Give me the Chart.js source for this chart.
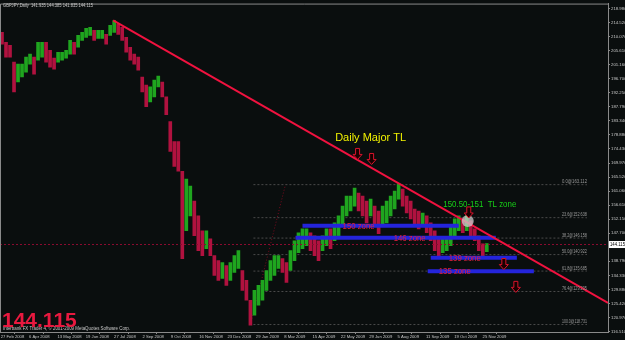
<!DOCTYPE html>
<html>
<head>
<meta charset="utf-8">
<script src="https://cdn.jsdelivr.net/npm/chart.js@4.4.1/dist/chart.umd.min.js"></script>
<style>
  html, body { margin: 0; padding: 0; background: #0a0e0e; }
</style>
</head>
<body>
<canvas id="chart" width="625" height="340"></canvas>
<script>
// GBPJPY daily, Feb 2008 - Dec 2009 (one bar here = about 4 trading days)
const symbolTitle = 'GBPJPY,Daily  141.935 144.385 141.835 144.115';
const lastPrice = 144.115;

const barHighs = [
  211.43, 208.28, 207.33, 201.98, 201.35, 201.35, 203.56, 204.50, 203.56, 208.28,
  208.28, 208.28, 205.76, 203.24, 205.13, 205.13, 205.76, 208.91, 208.28, 210.48,
  211.43, 212.69, 213.00, 212.06, 212.06, 212.06, 210.80, 213.63, 215.20, 213.94,
  213.00, 209.85, 206.70, 204.50, 203.56, 197.26, 194.74, 194.11, 196.32, 197.57,
  195.69, 190.96, 183.09, 176.80, 176.80, 167.35, 164.84, 162.63, 157.91, 153.19,
  148.47, 148.47, 145.95, 140.60, 139.02, 138.39, 137.45, 138.39, 140.60, 142.17,
  135.87, 132.73, 126.43, 129.58, 131.15, 132.73, 135.87, 139.02, 140.60, 140.60,
  139.65, 138.39, 142.17, 145.32, 147.84, 149.10, 149.10, 147.84, 146.89, 145.32,
  146.89, 149.10, 149.10, 150.98, 153.19, 156.30, 159.48, 159.48, 162.00, 160.43,
  159.48, 157.91, 158.54, 156.30, 154.76, 156.30, 157.91, 159.48, 161.06, 163.26,
  161.69, 159.48, 157.91, 155.39, 154.76, 154.13, 153.19, 150.98, 148.47, 145.95,
  145.95, 146.58, 150.04, 152.24, 153.19, 152.24, 153.19, 151.61, 149.10, 146.89,
  144.37, 144.39
];
const barLows = [
  207.65, 203.56, 203.56, 192.54, 195.69, 197.26, 198.83, 201.35, 198.20, 202.61,
  203.56, 201.98, 200.41, 199.78, 201.98, 202.61, 203.24, 204.50, 204.50, 206.70,
  208.91, 209.85, 210.48, 208.91, 209.54, 209.54, 207.65, 210.48, 211.43, 210.80,
  208.91, 205.13, 202.61, 201.35, 199.46, 192.54, 187.82, 189.39, 190.96, 194.11,
  190.96, 185.30, 173.65, 168.93, 167.35, 139.65, 148.47, 153.19, 146.89, 142.17,
  140.60, 142.80, 140.60, 134.30, 132.73, 133.36, 131.15, 132.73, 135.24, 136.50,
  129.58, 126.43, 118.56, 121.71, 124.86, 126.43, 129.58, 132.73, 134.30, 136.50,
  135.24, 132.10, 135.87, 139.02, 141.54, 142.80, 143.74, 142.17, 140.60, 139.02,
  142.17, 143.74, 142.80, 145.32, 146.89, 150.04, 153.19, 154.76, 156.30, 154.76,
  153.19, 150.98, 153.19, 150.04, 147.52, 150.04, 150.98, 153.19, 155.39, 158.54,
  156.30, 154.13, 152.24, 150.04, 149.10, 150.04, 147.84, 145.32, 142.17, 140.60,
  141.54, 142.17, 143.74, 146.89, 148.47, 147.84, 148.47, 146.58, 145.32, 142.17,
  139.65, 141.84
];

const yTicks = [218.98, 214.52, 210.07, 205.61, 201.16, 196.70, 192.25, 187.79, 183.34, 178.88,
  174.43, 169.97, 165.52, 161.06, 156.61, 152.15, 147.70, 143.24, 138.79, 134.33,
  129.88, 125.42, 120.97, 116.51];
const xLabels = ['27 Feb 2008', '6 Apr 2008', '13 May 2008', '19 Jun 2008', '27 Jul 2008', '2 Sep 2008',
  '9 Oct 2008', '16 Nov 2008', '23 Dec 2008', '29 Jan 2009', '8 Mar 2009', '15 Apr 2009',
  '22 May 2009', '29 Jun 2009', '5 Aug 2009', '11 Sep 2009', '19 Oct 2009', '25 Nov 2009'];

const fibPct = ['0.0', '23.6', '38.2', '50.0', '61.8', '76.4', '100.0'];
const fibPrice = [163.112, 152.638, 146.158, 140.922, 135.685, 129.205, 118.731];

const zoneNames = ['150 zone', '146 zone', '139 zone', '135 zone'];
const zonePrice = [150.04, 146.26, 139.90, 135.66];

const trendPrices = [215.20, 125.58];

// ---- build datasets ----
const BG = '#0a0e0e';
const AXIS = '#8a8a8a';
const TXT = '#c8c8c8';
const FONT = '"Liberation Sans", Arial, sans-serif';

const barX = i => 2 + i * 4;
const candles = barHighs.map((h, i) => ({ x: barX(i), y: [barLows[i], h] }));
const candleColors = barHighs.map((h, i) => {
  if (i === 0) return '#b0123f';
  const mid = (h + barLows[i]) / 2, prev = (barHighs[i - 1] + barLows[i - 1]) / 2;
  return mid >= prev ? '#1fa51f' : '#b0123f';
});

function seg(x1, y1, x2, y2) { return [{ x: x1, y: y1 }, { x: x2, y: y2 }]; }
function lineDs(data, color, width, dash, order) {
  return { type: 'line', data, borderColor: color, borderWidth: width, borderDash: dash || [],
    pointRadius: 0, tension: 0, fill: false, order };
}

const zoneSpans = [[302, 458], [295, 495], [430, 516], [427, 533]];

const datasets = [
  { type: 'bar', data: candles, backgroundColor: candleColors, barThickness: 3, borderWidth: 0, order: 5 },
  ...fibPrice.map(p => lineDs(seg(253, p, 586, p), '#4a4a4a', 1, [2, 2], 8)),
  lineDs(seg(250, fibPrice[6], 285, fibPrice[0]), '#7a0a1e', 1, [1, 2], 8),
  lineDs(seg(0, lastPrice, 607, lastPrice), '#8c0c30', 1, [2, 2], 2),
  ...zonePrice.map((p, i) => lineDs(seg(zoneSpans[i][0], p, zoneSpans[i][1], p), '#2424dc', 4, [], 1)),
  lineDs(seg(113, trendPrices[0], 607, trendPrices[1]), '#f0123f', 2, [], 0)
];

// ---- drawing helpers ----
function downArrow(ctx, cx, cy) {
  ctx.beginPath();
  ctx.moveTo(cx - 2, cy - 6); ctx.lineTo(cx + 2, cy - 6); ctx.lineTo(cx + 2, cy);
  ctx.lineTo(cx + 4.5, cy); ctx.lineTo(cx, cy + 5); ctx.lineTo(cx - 4.5, cy);
  ctx.lineTo(cx - 2, cy); ctx.closePath();
  ctx.fillStyle = '#1a0000'; ctx.fill();
  ctx.strokeStyle = '#d8142c'; ctx.lineWidth = 1; ctx.stroke();
}

const decor = {
  id: 'decor',
  beforeDraw(chart) {
    const ctx = chart.ctx;
    ctx.save();
    ctx.fillStyle = BG;
    ctx.fillRect(0, 0, chart.width, chart.height);
    ctx.restore();
  },
  afterDatasetsDraw(chart) {
    const { ctx, chartArea: a, scales: { x, y } } = chart;
    const px = v => x.getPixelForValue(v), py = v => y.getPixelForValue(v);
    ctx.save();

    // frame
    ctx.strokeStyle = AXIS; ctx.lineWidth = 1;
    ctx.beginPath(); ctx.moveTo(a.left + 0.5, a.bottom); ctx.lineTo(a.left + 0.5, a.top + 0.5); ctx.lineTo(a.right, a.top + 0.5); ctx.stroke();

    // header + copyright
    ctx.fillStyle = TXT; ctx.textBaseline = 'alphabetic'; ctx.textAlign = 'left';
    ctx.font = '5px ' + FONT;
    ctx.fillText(symbolTitle, 3, 7, 90);
    ctx.fillText('Interbank FX Trader 4, \u00A9 2001-2009 MetaQuotes Software Corp.', 3, 330, 127);

    // big price
    ctx.fillStyle = '#e8193f';
    ctx.font = 'bold 21px ' + FONT;
    ctx.fillText(lastPrice.toFixed(3), 2, 327, 76);

    // fib labels
    ctx.fillStyle = '#9a9a9a'; ctx.font = '5px ' + FONT; ctx.textAlign = 'right';
    fibPrice.forEach((p, i) => ctx.fillText(fibPct[i] + '@' + p.toFixed(3), px(586), py(p) - 1.5, 25));

    // zone labels
    ctx.textAlign = 'center'; ctx.textBaseline = 'middle';
    ctx.fillStyle = '#e0203c'; ctx.font = '9px ' + FONT;
    const zoneLabelX = [358, 409, 464, 454];
    zoneNames.forEach((n, i) => ctx.fillText(n, px(zoneLabelX[i]), py(zonePrice[i]) + 0.5, 32));

    // comments
    ctx.fillStyle = '#f2f200'; ctx.font = '11px ' + FONT;
    ctx.fillText('Daily Major TL', px(370), py(178.06), 75);
    ctx.fillStyle = '#18d018'; ctx.font = '9px ' + FONT;
    ctx.fillText('150.50-151  TL zone', px(479), py(156.65), 73);

    // touch circle
    ctx.beginPath(); ctx.arc(px(467), py(151.61), 6, 0, Math.PI * 2);
    ctx.fillStyle = 'rgba(205,205,205,0.75)'; ctx.fill();

    // arrows
    [[357, 172.7], [371, 171.1], [468, 154.13], [503, 137.76], [515, 130.52]]
      .forEach(([ax, ay]) => downArrow(ctx, px(ax), py(ay)));

    // current price box on the axis
    const yy = py(lastPrice);
    ctx.fillStyle = '#ffffff'; ctx.fillRect(a.right + 1, yy - 3.5, 16, 7);
    ctx.fillStyle = '#000000'; ctx.font = '5px ' + FONT; ctx.textAlign = 'left';
    ctx.fillText(lastPrice.toFixed(3), a.right + 2, yy + 0.5, 15);
    ctx.restore();
  }
};

new Chart(document.getElementById('chart'), {
  type: 'bar',
  data: { datasets },
  options: {
    responsive: false,
    animation: false,
    events: [],
    layout: { padding: { left: 0, top: 1, right: 0, bottom: 0 } },
    plugins: { legend: { display: false }, tooltip: { enabled: false } },
    scales: {
      x: {
        type: 'linear', min: 0, max: 607, offset: false, position: 'bottom',
        afterBuildTicks: s => { s.ticks = xLabels.map((l, i) => ({ value: 0.7 + i * 28.3 })); },
        afterFit: s => { s.height = 8; },
        ticks: { autoSkip: false, maxRotation: 0, align: 'start', padding: 0, color: TXT,
          font: { size: 4.2, family: FONT }, callback: (v, i) => xLabels[i] },
        grid: { drawOnChartArea: false, drawTicks: true, tickLength: 2, color: AXIS },
        border: { color: AXIS }
      },
      y: {
        type: 'linear', position: 'right', min: 116.36, max: 220.56,
        afterBuildTicks: s => { s.ticks = yTicks.map(v => ({ value: v })); },
        afterFit: s => { s.width = 17; },
        ticks: { autoSkip: false, padding: 1, color: TXT, font: { size: 4.3, family: FONT },
          callback: v => v.toFixed(3) },
        grid: { drawOnChartArea: false, drawTicks: true, tickLength: 2, color: AXIS },
        border: { color: AXIS }
      }
    }
  },
  plugins: [decor]
});
</script>
</body>
</html>
